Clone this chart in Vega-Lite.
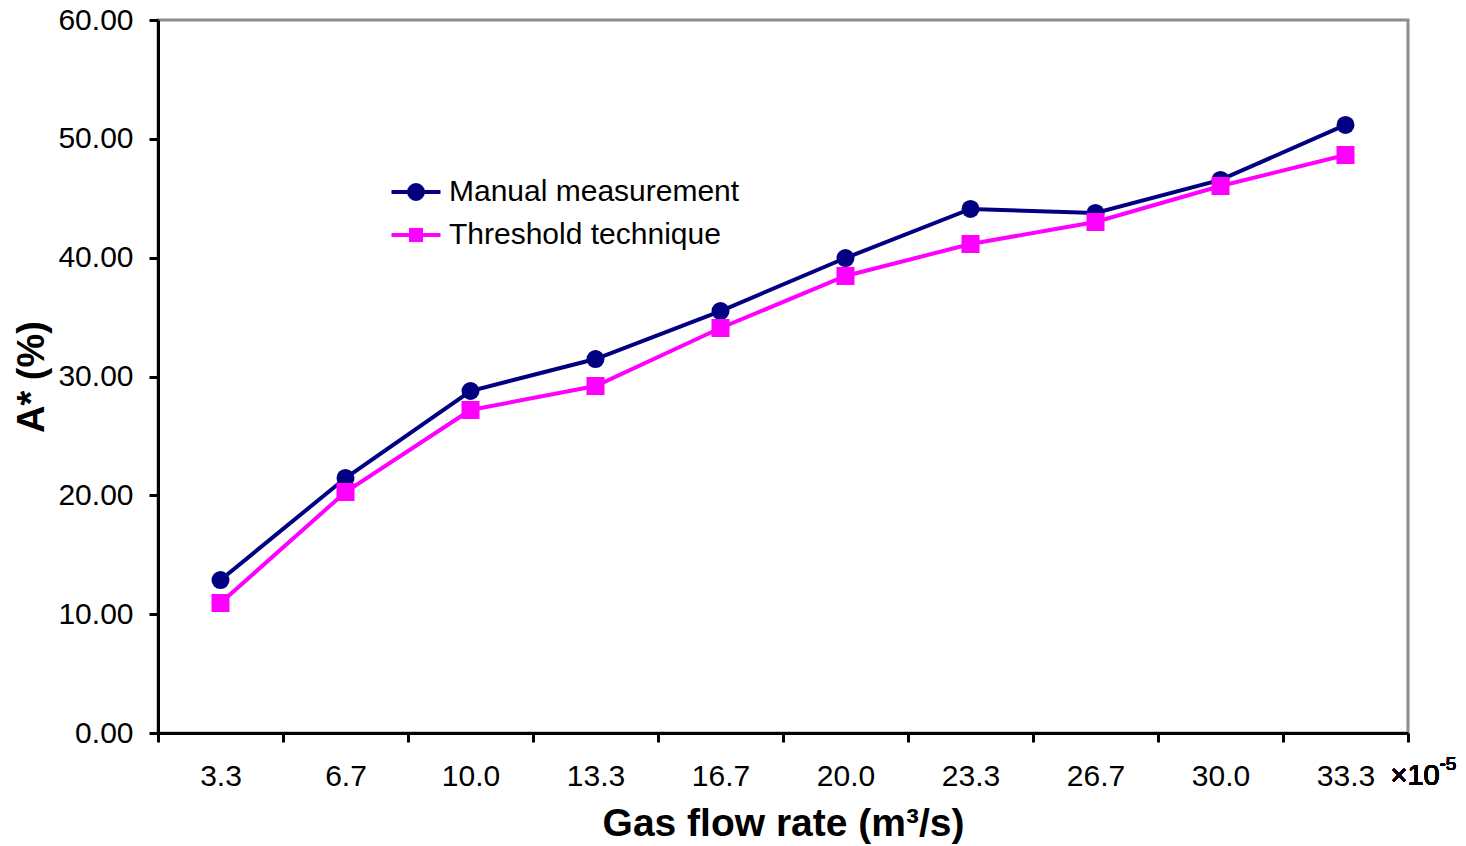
{
  "$schema": "https://vega.github.io/schema/vega-lite/v6.json",
  "autosize": "none",
  "width": 1250,
  "height": 713,
  "padding": {"left": 158, "top": 20, "right": 58, "bottom": 113},
  "background": "white",
  "config": {
    "font": "Liberation Sans",
    "view": {"stroke": "#8c8c8c", "strokeWidth": 3},
    "axis": {"grid": false, "domainColor": "black", "domainWidth": 3, "tickColor": "black", "tickWidth": 3, "tickSize": 9, "labelFont": "Liberation Sans", "labelFontSize": 30, "labelColor": "black", "titleFont": "Liberation Sans", "titleFontSize": 38, "titleFontWeight": "bold", "titleColor": "black"}
  },
  "data": {
    "values": [
      {"rate": "3.3", "series": "Manual measurement", "value": 12.87},
      {"rate": "6.7", "series": "Manual measurement", "value": 21.46},
      {"rate": "10.0", "series": "Manual measurement", "value": 28.78},
      {"rate": "13.3", "series": "Manual measurement", "value": 31.47},
      {"rate": "16.7", "series": "Manual measurement", "value": 35.51},
      {"rate": "20.0", "series": "Manual measurement", "value": 39.97},
      {"rate": "23.3", "series": "Manual measurement", "value": 44.10},
      {"rate": "26.7", "series": "Manual measurement", "value": 43.76},
      {"rate": "30.0", "series": "Manual measurement", "value": 46.54},
      {"rate": "33.3", "series": "Manual measurement", "value": 51.17},
      {"rate": "3.3", "series": "Threshold technique", "value": 10.94},
      {"rate": "6.7", "series": "Threshold technique", "value": 20.28},
      {"rate": "10.0", "series": "Threshold technique", "value": 27.18},
      {"rate": "13.3", "series": "Threshold technique", "value": 29.20},
      {"rate": "16.7", "series": "Threshold technique", "value": 34.08},
      {"rate": "20.0", "series": "Threshold technique", "value": 38.46},
      {"rate": "23.3", "series": "Threshold technique", "value": 41.15},
      {"rate": "26.7", "series": "Threshold technique", "value": 43.00},
      {"rate": "30.0", "series": "Threshold technique", "value": 46.03},
      {"rate": "33.3", "series": "Threshold technique", "value": 48.64}
    ]
  },
  "layer": [
    {
      "mark": {"type": "line", "strokeWidth": 4},
      "encoding": {
        "x": {"field": "rate", "type": "nominal", "sort": null, "bandPosition": 0.5,
              "scale": {"type": "band", "paddingInner": 0, "paddingOuter": 0},
              "axis": {"title": "Gas flow rate (m³/s)", "titleFontSize": 39, "labelAngle": 0, "tickBand": "extent", "labelPadding": 19, "titlePadding": 13}},
        "y": {"field": "value", "type": "quantitative",
              "scale": {"domain": [0, 60], "nice": false, "zero": true},
              "axis": {"title": "A* (%)", "values": [0, 10, 20, 30, 40, 50, 60], "format": ".2f", "labelPadding": 16, "titlePadding": 6}},
        "color": {"field": "series", "type": "nominal",
                  "scale": {"domain": ["Manual measurement", "Threshold technique"], "range": ["#000080", "#ff00ff"]},
                  "legend": {
                    "title": null, "orient": "none", "legendX": 243, "legendY": 157,
                    "labelFontSize": 30, "labelFont": "Liberation Sans", "labelColor": "black", "labelLimit": 0,
                    "symbolSize": 400, "labelOffset": 18, "rowPadding": 13, "padding": 0,
                    "encode": {
                      "symbols": {
                        "update": {
                          "shape": {"signal": "datum.value === 'Manual measurement' ? 'M-2.45,0H2.45M-0.7,0A0.7,0.7,0,1,0,0.7,0A0.7,0.7,0,1,0,-0.7,0Z' : 'M-2.45,0H2.45M-0.5,-0.5H0.5V0.5H-0.5Z'"},
                          "fill": {"signal": "datum.value === 'Manual measurement' ? '#000080' : '#ff00ff'"},
                          "stroke": {"signal": "datum.value === 'Manual measurement' ? '#000080' : '#ff00ff'"},
                          "strokeWidth": {"value": 4},
                          "opacity": {"value": 1},
                          "fillOpacity": {"value": 1},
                          "strokeOpacity": {"value": 1}
                        }
                      }
                    }
                  }}
      }
    },
    {
      "transform": [{"filter": "datum.series === 'Manual measurement'"}],
      "mark": {"type": "point", "filled": true, "opacity": 1, "shape": "circle", "size": 324},
      "encoding": {
        "x": {"field": "rate", "type": "nominal", "sort": null, "bandPosition": 0.5},
        "y": {"field": "value", "type": "quantitative"},
        "color": {"field": "series", "type": "nominal"}
      }
    },
    {
      "transform": [{"filter": "datum.series === 'Threshold technique'"}],
      "mark": {"type": "point", "filled": true, "opacity": 1, "shape": "square", "size": 324},
      "encoding": {
        "x": {"field": "rate", "type": "nominal", "sort": null, "bandPosition": 0.5},
        "y": {"field": "value", "type": "quantitative"},
        "color": {"field": "series", "type": "nominal"}
      }
    },
    {
      "mark": {"type": "text", "align": "left", "baseline": "alphabetic", "fontSize": 29, "dx": 45, "dy": 52, "color": "black"},
      "encoding": {
        "x": {"datum": "33.3", "type": "nominal", "bandPosition": 0.5},
        "y": {"datum": 0, "type": "quantitative"},
        "text": {"value": "×10"}
      }
    },
    {
      "mark": {"type": "text", "align": "left", "baseline": "alphabetic", "fontSize": 19, "dx": 94, "dy": 37, "color": "black"},
      "encoding": {
        "x": {"datum": "33.3", "type": "nominal", "bandPosition": 0.5},
        "y": {"datum": 0, "type": "quantitative"},
        "text": {"value": "-5"}
      }
    }
  ]
}
